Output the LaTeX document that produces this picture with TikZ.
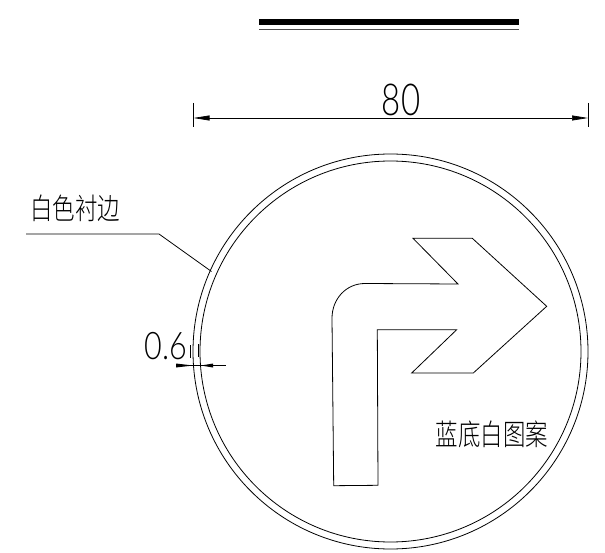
\documentclass[tikz,border=0pt]{standalone}
\usepackage{fontspec}
\usetikzlibrary{arrows.meta}
\newfontfamily\cjk{Noto Sans CJK SC Light}
\newfontfamily\cadfont{Lato Light}
\tikzset{
	thinline/.style={line width=.8pt},
	dimline/.style={line width=.7pt,{Triangle[length=16pt,width=5pt]}-{Triangle[length=16pt,width=5pt]}},
	cjklabel/.style={font=\cjk\fontsize{21}{21}\selectfont,inner sep=0pt,xscale=1.07,yscale=1.4},
	dimlabel/.style={font=\cadfont\fontsize{44}{44}\selectfont,inner sep=0pt,xscale=.75}
}
\begin{document}
\begin{tikzpicture}[x=1pt,y=-1pt]
	\useasboundingbox(0,0)rectangle(605,553);
	\coordinate(O)at(390.5,351.5);
	\coordinate(A)at(193.5,118);
	\coordinate(B)at(588,118);
	\coordinate(L1)at(26,234);
	\coordinate(L2)at(159,234);
	\coordinate(L3)at(211.5,271.5);
	% top bar
	\fill(259,19)rectangle(519,25);
	\draw[thinline,black!70](259,29)--(519,29);
	% dimension 80
	\foreach\p in{A,B}{\draw[thinline]([yshift=15pt]\p)--([yshift=-9pt]\p);}
	\draw[dimline](A)--(B);
	\node[dimlabel](width)at(401,100){80};
	% sign
	\draw[thinline](O)circle(197.5);
	\draw[thinline](O)circle(190.5);
	\draw[thinline](413,238.3)--(472.3,238.3)--(546.7,306.3)--(473.3,373)--(411.7,373)--(456.7,329.7)--(377.3,329.7)--(378,485.3)--(333.7,485.7)--(332,318.3).. controls (332,299) and (346,283.5) ..(365,283.5)--(458,284)--cycle;
	% labels
	\draw[thinline](L1)--(L2)--(L3);
	\node[cjklabel](edge)at(75,208){白色衬边};
	\node[cjklabel](ground)at(492,434){蓝底白图案};
	\node[dimlabel,font=\cadfont\fontsize{38}{38}\selectfont,xscale=1.07](gap)at(166,346){0.6};
	\draw[thinline](190,345)--(190,358);
	\draw[line width=1pt](198,344)--(198,357);
	\draw[thinline](176,365.5)--(226,365.5);
	\fill(176,363.5)--(193,365.5)--(176,367.5)--cycle;
	\fill(201,365.5)--(213,363.5)--(213,367.5)--cycle;
\end{tikzpicture}
\end{document}
